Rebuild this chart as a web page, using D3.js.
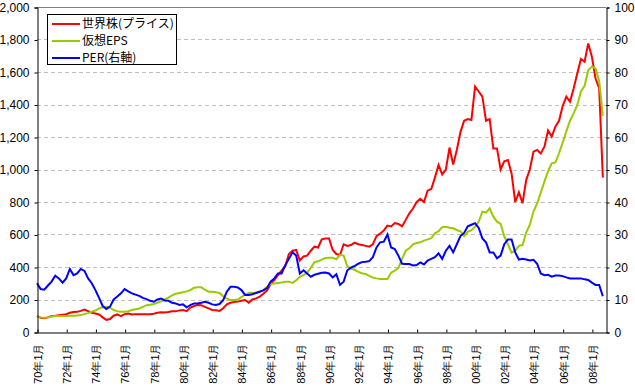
<!DOCTYPE html>
<html>
<head>
<meta charset="utf-8">
<script src="https://cdn.jsdelivr.net/npm/d3@7"></script>
<style>
  body { margin: 0; background: #fff; }
  svg { font-family: "Noto Sans CJK JP", sans-serif; }
  .axis path, .axis line { stroke: #000; }
  .axis text { fill: #000; font-size: 12px; }
  .x-axis text { font-size: 11px; }
  .legend text { font-size: 12px; }
</style>
</head>
<body>
<div class="chart"></div>
<script>
// quarterly data, first value = 1970-01, step 3 months
var startYear = 1970;
var stepMonths = 3;

var seriesNames = ["世界株(プライス)", "仮想EPS", "PER(右軸)"];

var price = [
  98, 88, 85, 90, 98, 100, 103, 106, 109, 118, 123, 124, 130, 138, 128, 118, 114, 108, 90, 75,
  80, 100, 108, 98, 110, 113, 108, 110, 110, 110, 110, 110, 112, 118, 121, 120, 123, 128, 127, 133,
  135, 128, 150, 160, 166, 165, 155, 145, 136, 134, 130, 146, 170, 180, 185, 187, 192, 197, 180, 200,
  207, 218, 235, 255, 295, 320, 350, 378, 405, 480, 500, 505, 440, 465, 470, 500, 525, 520, 570, 575,
  575, 505, 480, 474, 540, 530, 535, 550, 540, 535, 530, 525, 540, 590, 605, 625, 655, 650, 670, 665,
  650, 690, 730, 760, 800, 820, 800, 870, 880, 950, 1028, 970, 1000, 1135, 1030, 1120, 1230, 1300, 1310, 1305,
  1510, 1480, 1448, 1300, 1310, 1130, 1130, 1000, 1050, 1058, 976, 800, 860, 792, 935, 1000, 1110, 1120, 1099, 1140,
  1240, 1202, 1263, 1300, 1390, 1448, 1417, 1499, 1591, 1680, 1663, 1776, 1694, 1560, 1500, 950
];

var eps = [
  95, 90, 88, 90, 95, 98, 98, 98, 99, 100, 100, 102, 104, 110, 116, 125, 132, 145, 152, 156,
  150, 135, 128, 125, 125, 128, 135, 140, 145, 155, 165, 168, 172, 180, 188, 200, 212, 225, 235, 240,
  245, 250, 258, 272, 275, 275, 260, 248, 248, 245, 240, 220, 205, 197, 197, 200, 215, 230, 240, 242,
  242, 250, 258, 278, 295, 298, 302, 305, 310, 310, 302, 318, 340, 350, 365, 395, 430, 435, 445, 455,
  457, 457, 448, 475, 470, 405, 390, 383, 370, 362, 357, 345, 335, 330, 326, 326, 326, 365, 377, 395,
  450, 500, 515, 540, 548, 552, 562, 570, 577, 607, 620, 645, 648, 642, 638, 628, 620, 590, 617, 627,
  648, 680, 741, 735, 761, 710, 679, 665, 589, 540, 488, 500, 530, 535, 612, 660, 741, 792, 858, 925,
  990, 1038, 1043, 1100, 1165, 1235, 1300, 1345, 1397, 1480, 1515, 1610, 1633, 1622, 1545, 1330
];

var per = [
  15.0, 13.2, 13.0, 14.3, 15.5, 17.3, 16.5, 15.2, 16.5, 19.4, 17.5, 18.0, 19.4, 18.8, 16.5, 15.0, 12.9, 10.5, 8.0, 7.1,
  7.8, 10.0, 10.9, 11.9, 13.2, 12.5, 11.9, 11.5, 11.1, 10.5, 10.1, 9.6, 9.3, 10.0, 10.3, 9.7, 9.6, 9.0, 8.8, 8.3,
  8.5, 7.6, 8.3, 8.8, 8.8, 9.0, 9.3, 9.0, 8.5, 8.3, 8.6, 9.8, 12.4, 13.9, 13.9, 13.7, 12.9, 11.4, 11.4, 11.6,
  12.0, 12.4, 12.8, 13.5, 15.5, 16.5, 18.0, 18.0, 20.5, 22.5, 24.5, 23.5, 18.0, 19.0, 18.0, 17.0, 17.6, 17.9, 18.2, 18.3,
  18.0, 16.8, 17.8, 14.5, 15.5, 19.0, 19.8, 20.3, 21.0, 21.5, 21.6, 21.8, 23.0, 26.0, 27.6, 27.8, 30.0, 26.0, 25.5, 23.5,
  21.0, 20.9, 20.9, 20.5, 20.6, 21.4, 20.8, 22.0, 22.5, 23.0, 24.2, 22.5, 25.0, 26.5, 24.5, 27.0, 29.5, 30.5, 32.5, 33.0,
  33.5, 32.0, 28.8, 27.6, 24.5, 24.5, 22.7, 23.5, 27.0, 28.5, 28.5, 24.5, 22.3, 22.5, 22.3, 22.0, 22.2, 21.0, 18.0, 17.5,
  17.6, 17.0, 17.4, 17.4, 17.2, 16.8, 16.5, 16.5, 16.5, 16.5, 16.2, 16.0, 15.2, 14.5, 14.5, 11.0
];

var xTickLabels = ["70年1月", "72年1月", "74年1月", "76年1月", "78年1月", "80年1月", "82年1月",
  "84年1月", "86年1月", "88年1月", "90年1月", "92年1月", "94年1月", "96年1月", "98年1月",
  "00年1月", "02年1月", "04年1月", "06年1月", "08年1月"];
var leftTicks = [0, 200, 400, 600, 800, 1000, 1200, 1400, 1600, 1800, 2000];
var rightTicks = [0, 10, 20, 30, 40, 50, 60, 70, 80, 90, 100];

var colors = ["#ff0000", "#99cc00", "#0000ff"];

var W = 635, H = 387;
var plot = {left: 37, right: 606, top: 7, bottom: 332};

var svg = d3.select(".chart").append("svg")
    .attr("width", W)
    .attr("height", H);

// x in months since 1970-01 (category style, evenly spaced)
const xScale = d3.scaleLinear()
    .domain([0, 467.6])
    .range([plot.left, plot.right]);

const yLeft = d3.scaleLinear()
    .domain([0, 2000])
    .range([plot.bottom, plot.top]);

const yRight = d3.scaleLinear()
    .domain([0, 100])
    .range([plot.bottom, plot.top]);

// grid
svg.append("g")
    .selectAll("line")
    .data(leftTicks.filter(d => d > 0 && d < 2000))
    .enter().append("line")
    .attr("x1", plot.left)
    .attr("x2", plot.right)
    .attr("y1", d => Math.round(yLeft(d)) + 0.5)
    .attr("y2", d => Math.round(yLeft(d)) + 0.5)
    .attr("stroke", "#c0c0c0")
    .attr("stroke-dasharray", "4,3");

svg.append("line")
    .attr("x1", plot.left)
    .attr("x2", plot.right)
    .attr("y1", yLeft(2000) + 0.5)
    .attr("y2", yLeft(2000) + 0.5)
    .attr("stroke", "#808080");

// lines
function monthOf(i) { return i * stepMonths; }

const lineL = d3.line()
    .x((d, i) => xScale(monthOf(i)))
    .y(d => yLeft(d));

const lineR = d3.line()
    .x((d, i) => xScale(monthOf(i)))
    .y(d => yRight(d));

svg.append("path")
    .datum(price)
    .attr("fill", "none")
    .attr("stroke", colors[0])
    .attr("stroke-width", 2)
    .attr("d", lineL);

svg.append("path")
    .datum(eps)
    .attr("fill", "none")
    .attr("stroke", colors[1])
    .attr("stroke-width", 2)
    .attr("d", lineL);

svg.append("path")
    .datum(per)
    .attr("fill", "none")
    .attr("stroke", colors[2])
    .attr("stroke-width", 2)
    .attr("d", lineR);

// axes
const yAxisL = d3.axisLeft(yLeft)
    .tickValues(leftTicks)
    .tickFormat(d3.format(","))
    .tickSize(3)
    .tickPadding(5);

svg.append("g")
    .attr("class", "axis y-axis")
    .attr("transform", `translate(${plot.left + 0.5}, 0.5)`)
    .call(yAxisL);

const yAxisR = d3.axisRight(yRight)
    .tickValues(rightTicks)
    .tickSize(3)
    .tickPadding(5);

svg.append("g")
    .attr("class", "axis y-axis")
    .attr("transform", `translate(${plot.right + 0.5}, 0.5)`)
    .call(yAxisR);

const xAxis = d3.axisBottom(xScale)
    .tickValues(xTickLabels.map((d, i) => i * 24))
    .tickFormat((d, i) => xTickLabels[i])
    .tickSizeInner(-3)
    .tickSizeOuter(0);

const xAxisGroup = svg.append("g")
    .attr("class", "axis x-axis")
    .attr("transform", `translate(0.5, ${plot.bottom + 0.5})`)
    .call(xAxis);

xAxisGroup.selectAll("text")
    .attr("transform", "rotate(-90)")
    .attr("x", -11)
    .attr("y", 0)
    .attr("dy", "0.35em")
    .style("text-anchor", "end");

// legend
const legend = svg.append("g").attr("class", "legend");

legend.append("rect")
    .attr("x", 47.5)
    .attr("y", 14.5)
    .attr("width", 129)
    .attr("height", 50)
    .attr("fill", "#fff")
    .attr("stroke", "#000");

const items = legend.selectAll(".item")
    .data(seriesNames)
    .enter().append("g")
    .attr("class", "item")
    .attr("transform", (d, i) => `translate(0, ${24 + i * 17})`);

items.append("line")
    .attr("x1", 52)
    .attr("x2", 80)
    .attr("stroke", (d, i) => colors[i])
    .attr("stroke-width", 2);

items.append("text")
    .attr("x", 82)
    .attr("dy", "0.35em")
    .text(d => d);
</script>
</body>
</html>
